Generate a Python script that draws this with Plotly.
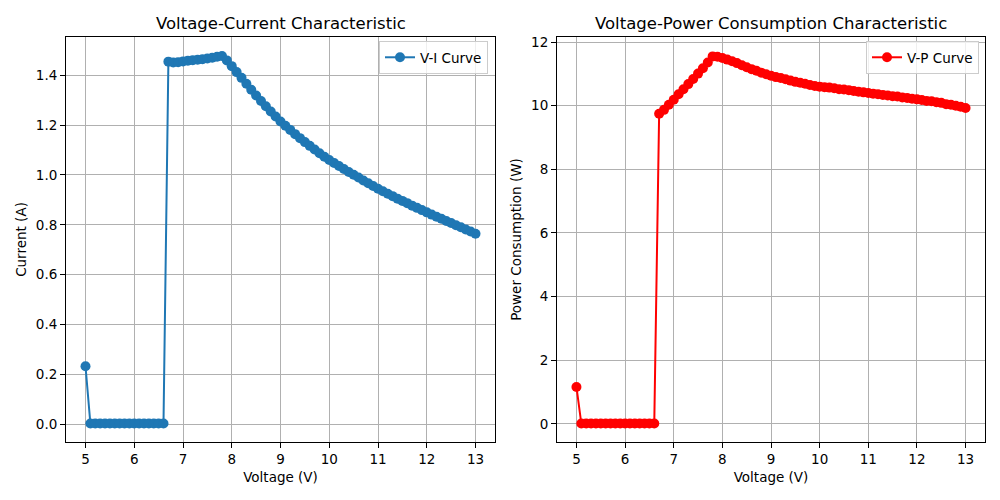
import plotly.graph_objects as go

voltage = [round(5.0 + 0.1 * i, 1) for i in range(81)]

current = [0.232] + [0.002] * 16 + [
    1.455, 1.452, 1.453, 1.456, 1.459, 1.461, 1.463, 1.465, 1.468, 1.471, 1.475, 1.478,
    1.460, 1.437, 1.413, 1.390, 1.366, 1.342, 1.319, 1.297, 1.276, 1.255, 1.235,
    1.215, 1.198, 1.181, 1.164, 1.148, 1.132, 1.117, 1.102, 1.087, 1.073,
    1.060, 1.048, 1.036, 1.024, 1.012, 1.001, 0.990, 0.978, 0.967, 0.956,
    0.945, 0.935, 0.925, 0.915, 0.905, 0.896, 0.887, 0.877, 0.868, 0.859,
    0.850, 0.841, 0.832, 0.824, 0.815, 0.807, 0.798, 0.790, 0.781, 0.773, 0.764,
]

power = [1.16] + [0.01] * 16 + [
    9.75, 9.87, 10.03, 10.19, 10.36, 10.52, 10.68, 10.84, 11.01, 11.18, 11.36, 11.55,
    11.54, 11.50, 11.45, 11.40, 11.34, 11.27, 11.21, 11.15, 11.10, 11.04, 10.99,
    10.94, 10.90, 10.87, 10.83, 10.79, 10.75, 10.72, 10.69, 10.65, 10.62,
    10.60, 10.58, 10.57, 10.55, 10.52, 10.51, 10.49, 10.46, 10.44, 10.42,
    10.40, 10.38, 10.36, 10.34, 10.32, 10.30, 10.29, 10.26, 10.24, 10.22,
    10.20, 10.18, 10.15, 10.14, 10.11, 10.09, 10.05, 10.03, 10.00, 9.97, 9.93,
]

x_ticks = [5, 6, 7, 8, 9, 10, 11, 12, 13]
i_ticks = [0.0, 0.2, 0.4, 0.6, 0.8, 1.0, 1.2, 1.4]
p_ticks = [0, 2, 4, 6, 8, 10, 12]

FONT = "DejaVu Sans"
fig = go.Figure()

fig.add_trace(go.Scatter(
    x=voltage, y=current, mode="lines+markers", name="V-I Curve",
    line=dict(color="#1f77b4", width=2),
    marker=dict(color="#1f77b4", size=10, symbol="circle"),
    xaxis="x", yaxis="y", legend="legend",
))
fig.add_trace(go.Scatter(
    x=voltage, y=power, mode="lines+markers", name="V-P Curve",
    line=dict(color="#ff0000", width=2),
    marker=dict(color="#ff0000", size=10, symbol="circle"),
    xaxis="x2", yaxis="y2", legend="legend2",
))

axis_common = dict(
    showline=True, linecolor="black", linewidth=1, mirror=True,
    showgrid=True, gridcolor="#b0b0b0", gridwidth=1,
    ticks="outside", ticklen=5, tickwidth=1, tickcolor="black",
    zeroline=False, automargin=False,
    tickfont=dict(family=FONT, size=13.5, color="black"),
)

top = 1 - 37 / 500
bottom = 1 - 442 / 500

fig.update_layout(
    width=1000, height=500,
    margin=dict(l=0, r=0, t=0, b=0, autoexpand=False),
    paper_bgcolor="white", plot_bgcolor="white",
    font=dict(family=FONT, color="black"),
    showlegend=True,
    xaxis=dict(domain=[0.066, 0.495], range=[4.6, 13.4], tickvals=x_ticks,
               title=dict(text="Voltage (V)", font=dict(family=FONT, size=13.5), standoff=6),
               anchor="y", **axis_common),
    yaxis=dict(domain=[bottom, top], range=[-0.072, 1.554], tickvals=i_ticks,
               tickformat=".1f",
               title=dict(text="Current (A)", font=dict(family=FONT, size=13.5), standoff=6),
               anchor="x", **axis_common),
    xaxis2=dict(domain=[0.557, 0.985], range=[4.6, 13.4], tickvals=x_ticks,
                title=dict(text="Voltage (V)", font=dict(family=FONT, size=13.5), standoff=6),
                anchor="y2", **axis_common),
    yaxis2=dict(domain=[bottom, top], range=[-0.57, 12.16], tickvals=p_ticks,
                title=dict(text="Power Consumption (W)", font=dict(family=FONT, size=13.5), standoff=6),
                anchor="x2", **axis_common),
    legend=dict(x=0.488, y=1 - 41 / 500, xanchor="right", yanchor="top",
                bgcolor="rgba(255,255,255,0.8)", bordercolor="#cccccc", borderwidth=1,
                font=dict(family=FONT, size=13.5)),
    legend2=dict(x=0.979, y=1 - 41 / 500, xanchor="right", yanchor="top",
                 bgcolor="rgba(255,255,255,0.8)", bordercolor="#cccccc", borderwidth=1,
                 font=dict(family=FONT, size=13.5)),
    annotations=[
        dict(text="Voltage-Current Characteristic", x=(0.066 + 0.495) / 2, y=top,
             xref="paper", yref="paper", xanchor="center", yanchor="bottom", yshift=2,
             showarrow=False, font=dict(family=FONT, size=16.5, color="black")),
        dict(text="Voltage-Power Consumption Characteristic", x=(0.557 + 0.985) / 2, y=top,
             xref="paper", yref="paper", xanchor="center", yanchor="bottom", yshift=2,
             showarrow=False, font=dict(family=FONT, size=16.5, color="black")),
    ],
)

fig.write_html("out.html", config={"displayModeBar": False},
               post_script="document.body.style.margin='0';")
